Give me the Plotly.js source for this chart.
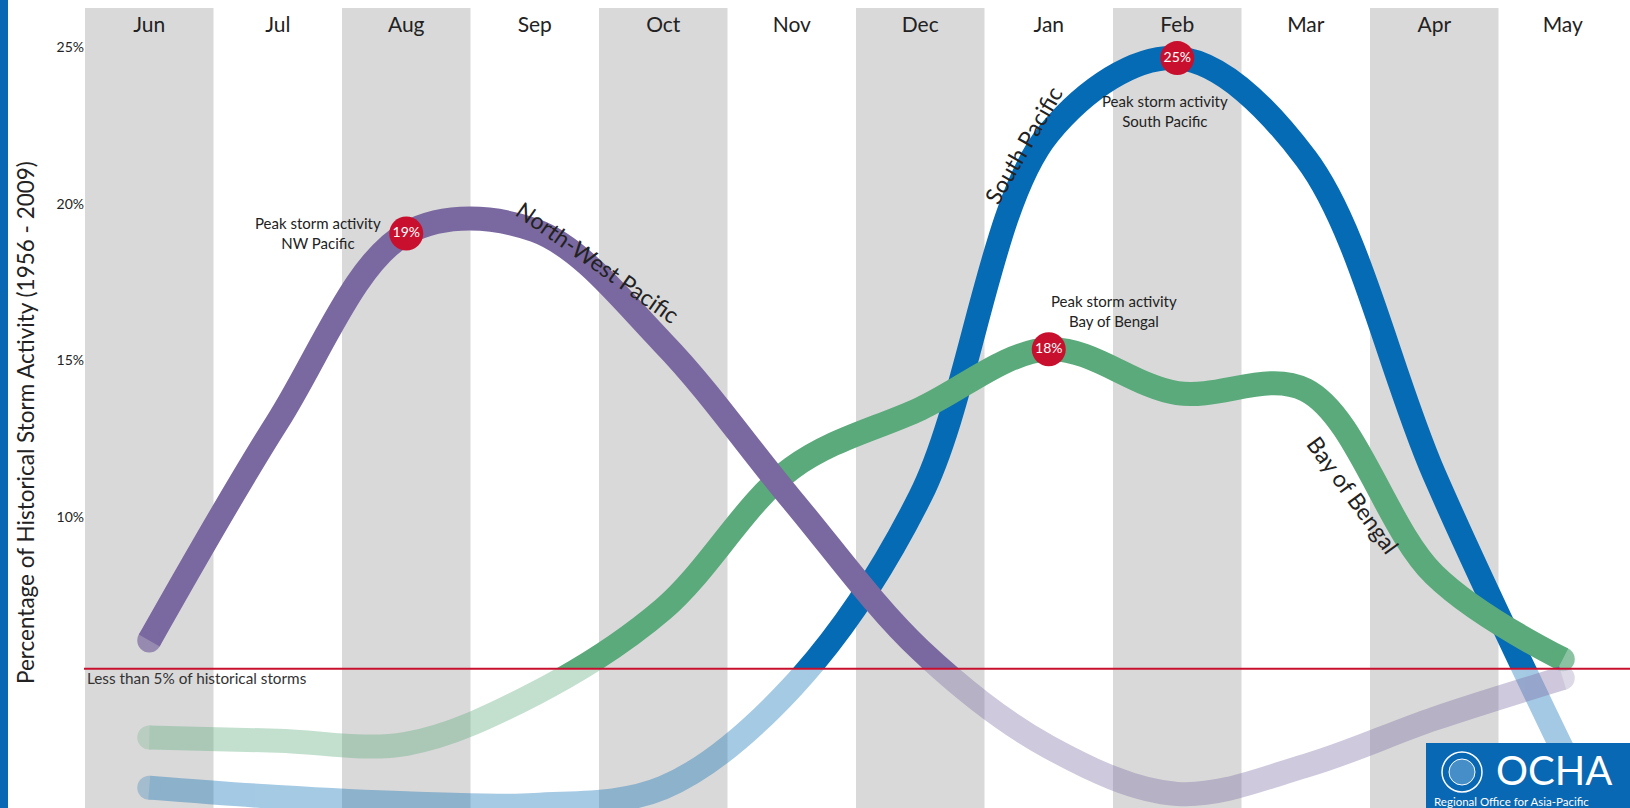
<!DOCTYPE html>
<html>
<head>
<meta charset="utf-8">
<script src="https://cdn.plot.ly/plotly-3.0.1.min.js"></script>
<style>html,body{margin:0;padding:0;background:#fff;overflow:hidden}</style>
</head>
<body>
<div id="chart" style="width:1630px;height:808px"></div>
<script>
// ---------------- data ----------------
const months = ['Jun','Jul','Aug','Sep','Oct','Nov','Dec','Jan','Feb','Mar','Apr','May'];
const nwPacific    = [5.9, 12.9, 18.9, 19.0, 15.4, 10.4, 5.6, 2.5, 1.0, 1.9, 3.4, 4.7];
const southPacific = [1.2, 0.9, 0.7, 0.65, 1.2, 4.4, 10.5, 22.1, 24.5, 21.3, 11.2, 2.4];
const bayOfBengal  = [2.8, 2.7, 2.6, 4.2, 6.9, 11.4, 13.3, 15.2, 13.8, 13.9, 8.0, 5.3];
const yTickVals = [10, 15, 20, 25];
const yTickText = ['10%', '15%', '20%', '25%'];
const threshold = 5;
const thresholdLabel = 'Less than 5% of historical storms';
const peakMonths = ['Aug', 'Feb', 'Jan'];
const peakLabels = ['19%', '25%', '18%'];
const peakTexts = ['Peak storm activity<br>NW Pacific', 'Peak storm activity<br>South Pacific', 'Peak storm activity<br>Bay of Bengal'];
const yTitle = 'Percentage of Historical Storm Activity (1956 - 2009)';

// ---------------- geometry / style ----------------
const W = 1630, H = 808;
const M = {l: 85, r: 3, t: 8, b: 0};
const PW = W - M.l - M.r, PH = H - M.t - M.b;
const yMin = 0.55, yMax = 26.1;
const split = (threshold - yMin) / (yMax - yMin);
const px2x = px => (px - M.l) / PW;
const py2y = py => (H - M.b - py) / PH;
const FONT = 'Lato, "Open Sans", sans-serif';
const TXT = '#222222';
const LINE_W = 24;
const FADE = 0.36;

const series = [
  {name: 'South Pacific', y: southPacific, color: '#066bb5'},
  {name: 'Bay of Bengal', y: bayOfBengal, color: '#5aaa7b'},
  {name: 'North-West Pacific', y: nwPacific, color: '#7a68a0'}
];
const xIdx = months.map((m, i) => i);
const capSizes = months.map((m, i) => (i === 0 || i === months.length - 1) ? LINE_W : 0);

const traces = [];
series.forEach(s => {
  // faded part (below threshold) in lower subplot
  traces.push({
    x: xIdx, y: s.y, xaxis: 'x', yaxis: 'y2', name: s.name,
    mode: 'lines+markers', opacity: FADE,
    line: {color: s.color, width: LINE_W, shape: 'spline', smoothing: 1},
    marker: {size: capSizes, color: s.color, line: {width: 0}},
    hoverinfo: 'skip', showlegend: false
  });
  // full colour part (above threshold)
  traces.push({
    x: xIdx, y: s.y, xaxis: 'x', yaxis: 'y', name: s.name,
    mode: 'lines+markers',
    line: {color: s.color, width: LINE_W, shape: 'spline', smoothing: 1},
    marker: {size: capSizes, color: s.color, line: {width: 0}},
    hoverinfo: 'skip', showlegend: false
  });
});

const peakSeriesData = [nwPacific, southPacific, bayOfBengal];
const peakX = peakMonths.map(m => months.indexOf(m));
const peakY = peakX.map((xi, k) => peakSeriesData[k][xi]);
traces.push({
  x: peakX, y: peakY, xaxis: 'x', yaxis: 'y', mode: 'markers+text',
  marker: {size: 34, color: '#c8102e', line: {width: 0}},
  text: peakLabels, textposition: 'middle center',
  textfont: {family: FONT, size: 14, color: '#ffffff'},
  hoverinfo: 'skip', showlegend: false, cliponaxis: false
});

// ---------------- shapes ----------------
const shapes = [];
months.forEach((m, i) => {
  if (i % 2 === 0) shapes.push({type: 'rect', xref: 'x', yref: 'paper', x0: i - 0.5, x1: i + 0.5, y0: 0, y1: 1,
    fillcolor: '#d9d9d9', line: {width: 0}, layer: 'below'});
});
shapes.push({type: 'line', xref: 'paper', yref: 'paper', x0: px2x(84), x1: px2x(1630), y0: split, y1: split,
  line: {color: '#c8102e', width: 2}, layer: 'above'});
shapes.push({type: 'rect', xref: 'paper', yref: 'paper', x0: px2x(0), x1: px2x(8), y0: py2y(808), y1: py2y(0),
  fillcolor: '#0868b4', line: {width: 0}, layer: 'above'});
// logo box
shapes.push({type: 'rect', xref: 'paper', yref: 'paper', x0: px2x(1426), x1: px2x(1630), y0: py2y(808), y1: py2y(743),
  fillcolor: '#0868b4', line: {width: 0}, layer: 'above'});
shapes.push({type: 'circle', xref: 'paper', yref: 'paper', x0: px2x(1442), x1: px2x(1482), y0: py2y(792), y1: py2y(752),
  line: {color: '#ffffff', width: 1.5}, layer: 'above'});
shapes.push({type: 'circle', xref: 'paper', yref: 'paper', x0: px2x(1449), x1: px2x(1475), y0: py2y(785), y1: py2y(759),
  line: {color: '#ffffff', width: 1}, fillcolor: 'rgba(255,255,255,0.25)', layer: 'above'});

// ---------------- annotations ----------------
const ann = [];
ann.push({xref: 'paper', yref: 'paper', x: px2x(25), y: py2y(423), text: yTitle, textangle: -90, showarrow: false,
  font: {family: FONT, size: 22.5, color: TXT}, xanchor: 'center', yanchor: 'middle'});
ann.push({xref: 'paper', yref: 'paper', x: 0, y: split, text: thresholdLabel, showarrow: false,
  xanchor: 'left', yanchor: 'top', yshift: 2, font: {family: FONT, size: 15.3, color: '#333'}});
const peakShift = [[-88, 0], [-12, -53], [65, 38]];
peakTexts.forEach((t, k) => ann.push({x: peakX[k], y: peakY[k], xref: 'x', yref: 'y', text: t, showarrow: false,
  xshift: peakShift[k][0], yshift: peakShift[k][1], font: {family: FONT, size: 15, color: TXT}}));
ann.push({x: 3.49, y: 17.99, xref: 'x', yref: 'y', text: 'North-West Pacific', textangle: 35, showarrow: false,
  font: {family: FONT, size: 23, color: TXT}});
ann.push({x: 6.80, y: 21.72, xref: 'x', yref: 'y', text: 'South Pacific', textangle: -60, showarrow: false,
  font: {family: FONT, size: 23, color: TXT}});
ann.push({x: 9.37, y: 10.54, xref: 'x', yref: 'y', text: 'Bay of Bengal', textangle: 54, showarrow: false,
  font: {family: FONT, size: 23, color: TXT}});
ann.push({xref: 'paper', yref: 'paper', x: px2x(1494), y: py2y(770), text: 'OCHA', showarrow: false,
  xanchor: 'left', yanchor: 'middle', font: {family: FONT, size: 40, color: '#ffffff'}});
ann.push({xref: 'paper', yref: 'paper', x: px2x(1432), y: py2y(801), text: 'Regional Office for Asia-Pacific', showarrow: false,
  xanchor: 'left', yanchor: 'middle', font: {family: FONT, size: 11.5, color: '#ffffff'}});

const layout = {
  width: W, height: H, margin: M,
  paper_bgcolor: '#ffffff', plot_bgcolor: 'rgba(0,0,0,0)',
  showlegend: false,
  xaxis: {range: [-0.5, 11.5], tickmode: 'array', tickvals: xIdx, ticktext: months,
    side: 'top', anchor: 'y', ticklabelposition: 'inside', ticklabelstandoff: 6, ticks: '',
    showgrid: false, zeroline: false, showline: false,
    tickfont: {family: FONT, size: 21, color: TXT}, fixedrange: true},
  yaxis: {domain: [split, 1], range: [threshold, yMax], tickmode: 'array', tickvals: yTickVals, ticktext: yTickText,
    ticks: '', ticklabelshift: 5, showgrid: false, zeroline: false, showline: false, anchor: 'x',
    tickfont: {family: FONT, size: 14, color: TXT}, fixedrange: true},
  yaxis2: {domain: [0, split], range: [yMin, threshold], showticklabels: false, ticks: '',
    showgrid: false, zeroline: false, showline: false, anchor: 'x', fixedrange: true},
  shapes: shapes,
  annotations: ann
};

Plotly.newPlot('chart', traces, layout, {displayModeBar: false, staticPlot: true});
</script>
</body>
</html>
